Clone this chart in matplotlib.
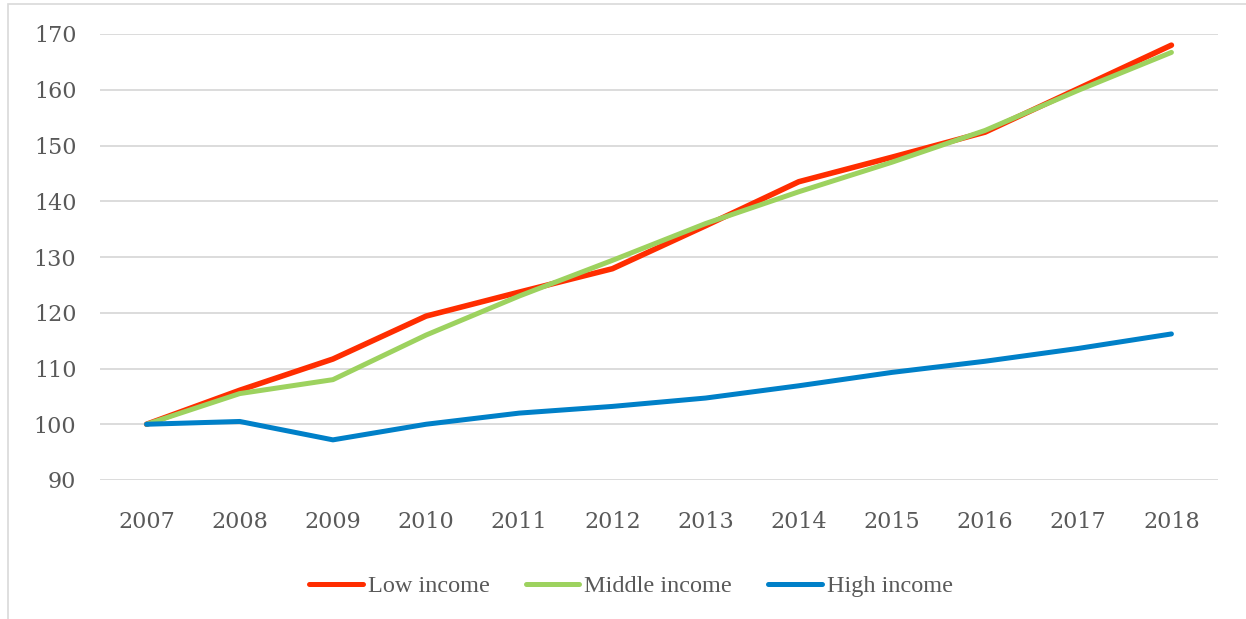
import matplotlib
matplotlib.use("Agg")
import matplotlib.pyplot as plt
from matplotlib.patches import Rectangle

years = [2007, 2008, 2009, 2010, 2011, 2012, 2013, 2014, 2015, 2016, 2017, 2018]
low_income = [100, 106.1, 111.7, 119.4, 123.7, 127.9, 135.6, 143.5, 147.9, 152.4, 160.2, 168.0]
middle_income = [100, 105.5, 108.0, 116.0, 123.0, 129.4, 136.0, 141.7, 147.0, 152.7, 159.9, 166.7]
high_income = [100, 100.5, 97.2, 100.0, 102.0, 103.2, 104.7, 106.9, 109.3, 111.3, 113.6, 116.2]
y_ticks = [90, 100, 110, 120, 130, 140, 150, 160, 170]

W, H = 1246, 619
fig = plt.figure(figsize=(W / 100, H / 100), dpi=100)
fig.patch.set_facecolor("white")

# outer chart border (cut off at right/bottom)
fig.patches.append(Rectangle((8 / W, -0.05), 1.2, 1 - 4 / H + 0.05, transform=fig.transFigure,
                             fill=False, edgecolor="#D9D9D9", linewidth=1.2))

ax = fig.add_axes([100 / W, 1 - 480 / H, (1218 - 100) / W, (480 - 34) / H])
x = list(range(len(years)))
ax.plot(x, low_income, color="#FF2D00", lw=4.0, solid_capstyle="round", solid_joinstyle="round",
        label="Low income", zorder=3)
ax.plot(x, middle_income, color="#9DD25F", lw=3.6, solid_capstyle="round", solid_joinstyle="round",
        label="Middle income", zorder=4)
ax.plot(x, high_income, color="#0080C8", lw=3.6, solid_capstyle="round", solid_joinstyle="round",
        label="High income", zorder=5)

ax.set_xlim(-0.5, len(years) - 0.5)
ax.set_ylim(90, 170)
ax.set_yticks(y_ticks)
ax.set_xticks(x)
ax.set_xticklabels([str(y) for y in years])
ax.grid(axis="y", color="#D9D9D9", lw=1.3)
ax.set_axisbelow(True)
for s in ax.spines.values():
    s.set_visible(False)
ax.tick_params(length=0, labelsize=16, labelcolor="#595959")
ax.tick_params(axis="y", pad=17)
ax.tick_params(axis="x", pad=22)
for lab in ax.get_xticklabels() + ax.get_yticklabels():
    lab.set_family("DejaVu Serif")

leg = fig.legend(loc="center", bbox_to_anchor=(631 / W, 1 - 586 / H), ncol=3, frameon=False,
                 prop={"family": "Liberation Serif", "size": 17.5}, handlelength=2.2,
                 handletextpad=0.2, columnspacing=1.5)
for t in leg.get_texts():
    t.set_color("#595959")
for h in leg.legend_handles:
    h.set_linewidth(3.6)

fig.savefig("out.png", dpi=100)
